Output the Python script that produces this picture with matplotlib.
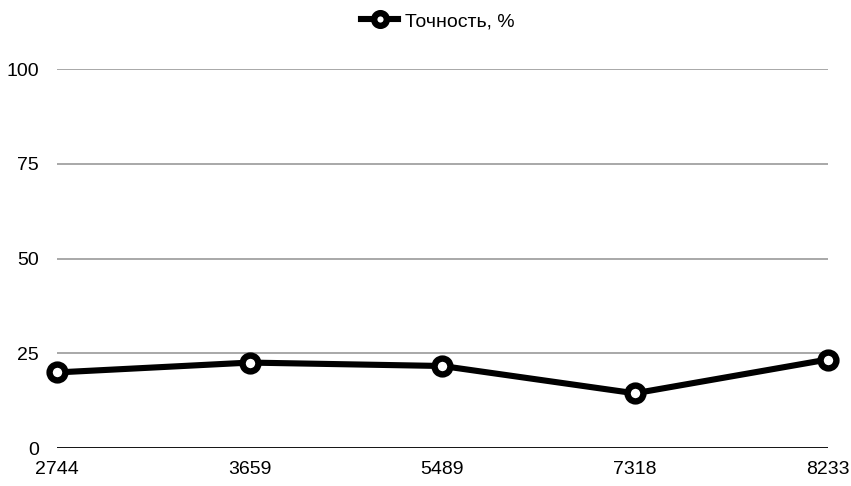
import matplotlib
matplotlib.use("Agg")
import matplotlib.pyplot as plt

categories = ["2744", "3659", "5489", "7318", "8233"]
accuracy = [20.0, 22.6, 21.7, 14.5, 23.4]
series_label = "Точность, %"
y_ticks = [0, 25, 50, 75, 100]

plt.rcParams["font.family"] = ["Liberation Sans", "DejaVu Sans"]

fig = plt.figure(figsize=(8.51, 4.86), dpi=100)
ax = fig.add_axes([57 / 851, 37.7 / 486, (827.5 - 57) / 851, (448.3 - 69) / 486])

x = list(range(len(categories)))
ax.plot(x, accuracy, color="black", lw=4.4, marker="o", markersize=11.4,
        markerfacecolor="white", markeredgecolor="black", markeredgewidth=4.6,
        label=series_label, zorder=5, clip_on=False)

ax.set_xlim(0, len(categories) - 1)
ax.set_ylim(0, 100)
ax.set_yticks(y_ticks)
ax.set_xticks(x)
ax.set_xticklabels(categories)
ax.tick_params(axis="both", length=0, labelsize=14, colors="black")
ax.tick_params(axis="y", pad=13)
ax.tick_params(axis="x", pad=9)

for t in y_ticks[1:]:
    ax.axhline(t, color="#999999", lw=1.2, zorder=1)
ax.axhline(0, color="black", lw=1.3, zorder=2)

for s in ax.spines.values():
    s.set_visible(False)

fig.legend(loc="upper center", bbox_to_anchor=(438 / 851, 1.0), frameon=False,
           fontsize=14, handlelength=1.9, handletextpad=0.35, borderaxespad=0.25,
           markerscale=0.8)

fig.savefig("out.png", dpi=100, facecolor="white")
